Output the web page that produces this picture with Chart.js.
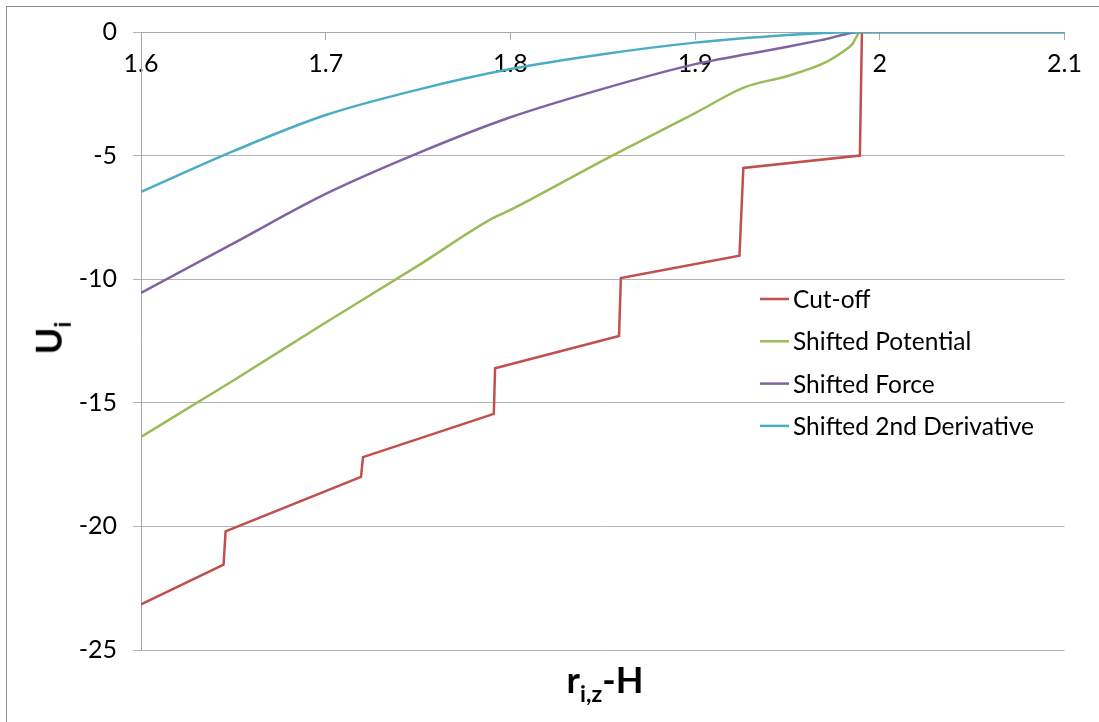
<!DOCTYPE html>
<html>
<head>
<meta charset="utf-8">
<script src="https://cdn.jsdelivr.net/npm/chart.js@4.4.0/dist/chart.umd.min.js"></script>
<style>
  body { margin: 0; background: #fff; }
  #wrap { position: relative; width: 1099px; height: 722px; overflow: hidden; }
  #frame { position: absolute; left: 6px; top: 6px; width: 1200px; height: 800px; border: 1px solid #8c8c8c; }
  canvas { position: absolute; left: 0; top: 0; }
  .title { position: absolute; font-family: Lato, sans-serif; font-weight: bold; font-size: 36px; line-height: 1; white-space: nowrap; color: #000; }
  .title sub { font-size: 65%; vertical-align: -9px; line-height: 1; }
  #xTitle { left: 605px; top: 661px; transform: translateX(-50%); }
  #yTitle { left: 52px; top: 338px; transform: translate(-50%, -50%) rotate(-90deg); }
</style>
</head>
<body>
<div id="wrap">
  <div id="frame"></div>
  <canvas id="potentialChart" width="1099" height="722"></canvas>
  <div class="title" id="xTitle">r<sub>i,z</sub>-H</div>
  <div class="title" id="yTitle">U<sub>i</sub></div>
</div>
<script>
// values
const cutoffX = [1.6, 1.6447, 1.6458, 1.7191, 1.7202, 1.7910, 1.7917, 1.8588, 1.8598, 1.9240, 1.9261, 1.9892, 1.9903, 2.1];
const cutoffY = [-23.15, -21.55, -20.2, -18.0, -17.2, -15.45, -13.6, -12.3, -9.95, -9.05, -5.5, -5.0, 0, 0];

const potentialX = [1.6, 1.65, 1.7, 1.75, 1.79, 1.8, 1.85, 1.9, 1.927, 1.95, 1.97, 1.98, 1.985, 1.9895, 2.1];
const potentialY = [-16.38, -14.1, -11.75, -9.45, -7.55, -7.2, -5.2, -3.28, -2.23, -1.78, -1.25, -0.8, -0.5, 0, 0];

const forceX = [1.6, 1.65, 1.7, 1.75, 1.8, 1.85, 1.9, 1.95, 1.97, 1.9895, 2.1];
const forceY = [-10.55, -8.55, -6.55, -4.9, -3.45, -2.3, -1.3, -0.6, -0.3, 0, 0];

const secondX = [1.6, 1.65, 1.7, 1.75, 1.8, 1.85, 1.9, 1.95, 1.97, 1.9895, 2.1];
const secondY = [-6.47, -4.82, -3.36, -2.33, -1.5, -0.9, -0.43, -0.12, -0.04, 0, 0];

const seriesNames = ['Cut-off', 'Shifted Potential', 'Shifted Force', 'Shifted 2nd Derivative'];
const xTickValues = [1.6, 1.7, 1.8, 1.9, 2, 2.1];
const yTickValues = [0, -5, -10, -15, -20, -25];

const toPoints = (xs, ys) => xs.map((x, i) => ({ x: x, y: ys[i] }));

Chart.defaults.font.family = 'Lato, sans-serif';

// legend drawn inside the plot, like the original
const insideLegend = {
    id: 'insideLegend',
    afterDraw(chart) {
        const { ctx, chartArea } = chart;
        const x0 = chartArea.left + 619;
        const y0 = chartArea.top + 267;
        ctx.save();
        ctx.font = '24.5px Lato, sans-serif';
        ctx.textBaseline = 'middle';
        chart.data.datasets.forEach((ds, i) => {
            const y = y0 + i * 42.3;
            ctx.strokeStyle = ds.borderColor;
            ctx.lineWidth = 2.5;
            ctx.beginPath();
            ctx.moveTo(x0, y);
            ctx.lineTo(x0 + 29, y);
            ctx.stroke();
            ctx.fillStyle = '#000';
            ctx.fillText(ds.label, x0 + 33, y + 1);
        });
        ctx.restore();
    }
};

const ctx = document.getElementById('potentialChart').getContext('2d');
const potentialChart = new Chart(ctx, {
    type: 'line',
    data: {
        datasets: [{
            label: seriesNames[0],
            data: toPoints(cutoffX, cutoffY),
            borderColor: '#C0504D',
            borderWidth: 2.5,
            pointRadius: 0,
            tension: 0,
            order: 3
        }, {
            label: seriesNames[1],
            data: toPoints(potentialX, potentialY),
            borderColor: '#9BBB59',
            borderWidth: 2.5,
            pointRadius: 0,
            cubicInterpolationMode: 'monotone',
            order: 2
        }, {
            label: seriesNames[2],
            data: toPoints(forceX, forceY),
            borderColor: '#8064A2',
            borderWidth: 2.5,
            pointRadius: 0,
            cubicInterpolationMode: 'monotone',
            order: 1
        }, {
            label: seriesNames[3],
            data: toPoints(secondX, secondY),
            borderColor: '#4BACC6',
            borderWidth: 2.5,
            pointRadius: 0,
            cubicInterpolationMode: 'monotone',
            order: 0
        }]
    },
    options: {
        responsive: false,
        animation: false,
        layout: { padding: { left: 0, top: 32, right: 30, bottom: 72 } },
        plugins: {
            legend: { display: false },
            tooltip: { enabled: false }
        },
        scales: {
            x: {
                type: 'linear',
                position: 'top',
                min: 1.6,
                max: 2.1,
                afterBuildTicks: s => { s.ticks = xTickValues.map(v => ({ value: v })); },
                afterFit: s => { s.height = 0; },
                grid: { drawOnChartArea: false, tickLength: -8, color: '#a6a6a6' },
                border: { color: '#a6a6a6' },
                ticks: {
                    mirror: true,
                    padding: 17,
                    color: '#000',
                    font: { size: 25 },
                    maxRotation: 0,
                    autoSkip: false,
                    callback: v => String(v)
                }
            },
            y: {
                min: -25,
                max: 0,
                afterBuildTicks: s => { s.ticks = yTickValues.map(v => ({ value: v })); },
                afterFit: s => { s.width = 141; },
                grid: { color: '#b3b3b3', tickLength: 8 },
                border: { color: '#a6a6a6' },
                ticks: { color: '#000', font: { size: 25 }, padding: 16 }
            }
        }
    },
    plugins: [insideLegend]
});
</script>
</body>
</html>
